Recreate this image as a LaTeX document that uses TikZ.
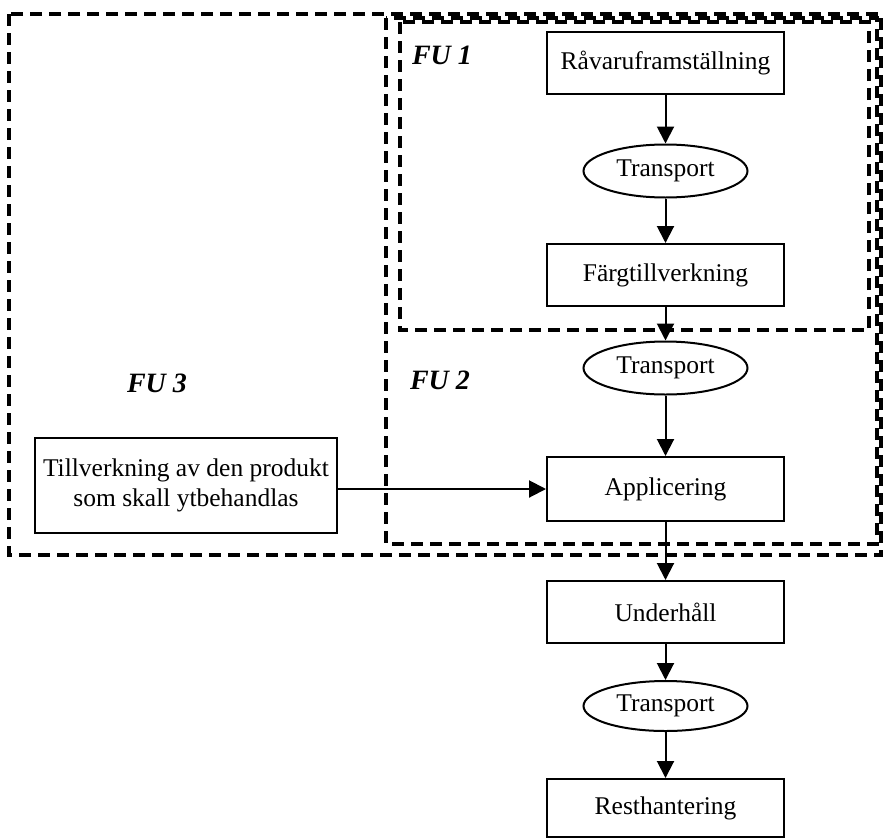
\documentclass[tikz,border=0pt]{standalone}
\usepackage{fontspec}
\setmainfont{Liberation Serif}
\usetikzlibrary{arrows.meta,shapes.geometric}
\begin{document}
\begin{tikzpicture}[x=1pt,y=-1pt,
  every node/.style={font=\fontsize{25.5}{30}\selectfont},
  boxnode/.style={draw,line width=2pt,minimum width=237pt,minimum height=62pt,inner sep=0pt,align=center},
  ovalnode/.style={draw,ellipse,line width=2pt,minimum width=164pt,minimum height=53pt,inner sep=0pt},
  flow/.style={line width=2pt,-{Triangle[length=17pt,width=17pt]}},
  fuframe/.style={dash pattern=on 12pt off 7pt,line width=3.5pt},
  fulabel/.style={font=\fontsize{28}{30}\selectfont\bfseries\itshape}]
\useasboundingbox (0,0) rectangle (883,838);
% frames
\draw[fuframe] (9,14) rectangle (881,555);
\draw[fuframe] (386,18) rectangle (877,544);
\draw[fuframe] (400,22) rectangle (869,330);
\node[fulabel] (fu1) at (442,55) {FU 1};
\node[fulabel] (fu2) at (440,380) {FU 2};
\node[fulabel] (fu3) at (157,383) {FU 3};
% nodes
\node[boxnode] (rav) at (665.5,63) {Råvaruframställning};
\node[ovalnode] (t1) at (665.5,171) {Transport};
\node[boxnode] (farg) at (665.5,275) {Färgtillverkning};
\node[ovalnode] (t2) at (665.5,368) {Transport};
\node[boxnode,minimum height=64pt] (app) at (665.5,489) {Applicering};
\node[boxnode,minimum width=302pt,minimum height=95pt] (till) at (186,485) {Tillverkning av den produkt\\som skall ytbehandlas};
\node[boxnode] (und) at (665.5,612) {Underhåll};
\node[ovalnode,minimum height=50pt] (t3) at (665.5,706) {Transport};
\node[boxnode,minimum height=58pt] (rest) at (665.5,808) {Resthantering};
% connectors
\draw[flow] (rav) -- (t1);
\draw[flow] (t1) -- (farg);
\draw[flow] (farg) -- (t2);
\draw[flow] (t2) -- (app);
\draw[flow] (till.east |- app.west) -- (app.west);
\draw[flow] (app) -- (und);
\draw[flow] (und) -- (t3);
\draw[flow] (t3) -- (rest);
\end{tikzpicture}
\end{document}
